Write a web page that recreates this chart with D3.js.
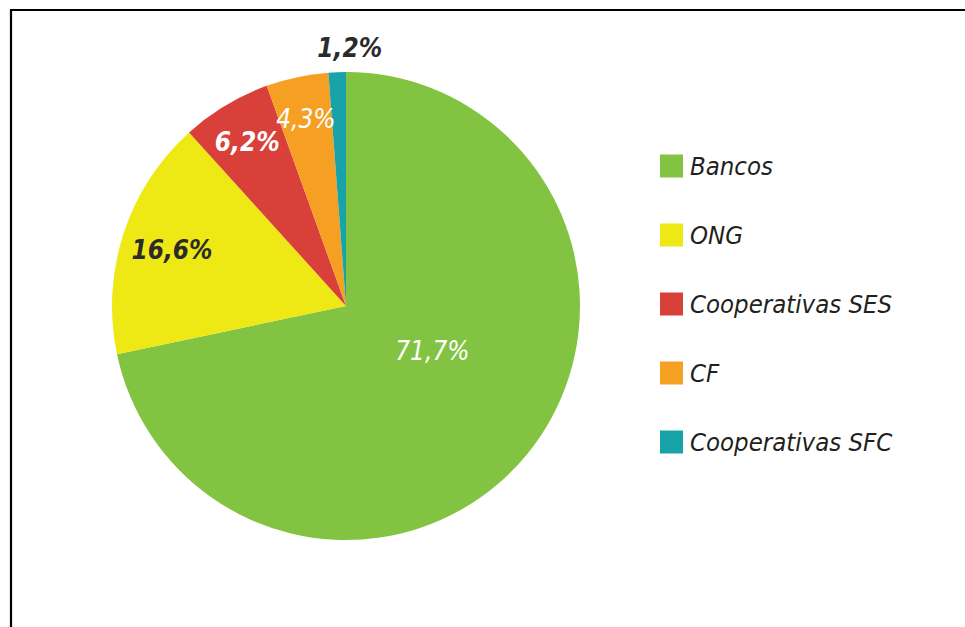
<!DOCTYPE html>
<html>
<head>
<meta charset="utf-8">
<script src="https://cdn.jsdelivr.net/npm/d3@7"></script>
<style>
  body { margin: 0; background: #fff; }
  svg text { font-family: "DejaVu Sans Condensed", "DejaVu Sans", sans-serif; font-stretch: condensed; font-style: italic; }
</style>
</head>
<body>
<div class="pie-viz"></div>
<script>
const categories = ["Bancos", "ONG", "Cooperativas SES", "CF", "Cooperativas SFC"];
const values = [71.7, 16.6, 6.2, 4.3, 1.2];
const labels = ["71,7%", "16,6%", "6,2%", "4,3%", "1,2%"];
const colors = ["#82c341", "#eee914", "#d9403a", "#f59f23", "#17a3a8"];

function drawPie() {
  const width = 965, height = 627;
  const cx = 346, cy = 306, radius = 234;

  const svg = d3.select(".pie-viz")
    .append("svg")
    .attr("width", width)
    .attr("height", height);

  // frame (only top and left edges visible)
  svg.append("path")
    .attr("d", `M11,${height + 5} V10 H${width + 5}`)
    .attr("fill", "none")
    .attr("stroke", "#000")
    .attr("stroke-width", 2.2);

  const data = categories.map((c, i) => ({ name: c, value: values[i], label: labels[i], color: colors[i] }));

  const pie = d3.pie().sort(null).value(d => d.value);
  const arcs = pie(data);
  const arc = d3.arc().innerRadius(0).outerRadius(radius);

  const g = svg.append("g").attr("transform", `translate(${cx}, ${cy})`);

  g.selectAll("path.slice")
    .data(arcs)
    .enter()
    .append("path")
    .attr("class", "slice")
    .attr("d", arc)
    .attr("fill", d => d.data.color);

  // label placement: radius and angle nudge per slice
  const labelR = [97, 183, 192, 192, 258];
  const labelNudge = [-12, 0, 0, 0, 3];
  const labelFill = ["#fff", "#2b2b2b", "#fff", "#fff", "#2b2b2b"];
  const labelWeight = ["normal", "bold", "bold", "normal", "bold"];

  g.selectAll("text.pct")
    .data(arcs)
    .enter()
    .append("text")
    .attr("class", "pct")
    .attr("transform", (d, i) => {
      const a = (d.startAngle + d.endAngle) / 2 + labelNudge[i] * Math.PI / 180;
      const r = labelR[i];
      return `translate(${r * Math.sin(a)}, ${-r * Math.cos(a)})`;
    })
    .attr("text-anchor", "middle")
    .attr("dy", "0.36em")
    .attr("font-size", "26px")
    .attr("font-weight", (d, i) => labelWeight[i])
    .attr("fill", (d, i) => labelFill[i])
    .text(d => d.data.label);

  // legend
  const legendY = d3.scalePoint()
    .domain(categories)
    .range([166, 442]);

  const legend = svg.append("g").attr("class", "legend");
  const items = legend.selectAll("g")
    .data(data)
    .enter()
    .append("g")
    .attr("transform", d => `translate(660, ${legendY(d.name)})`);

  items.append("rect")
    .attr("x", 0)
    .attr("y", -11.5)
    .attr("width", 23)
    .attr("height", 23)
    .attr("fill", d => d.color);

  items.append("text")
    .attr("x", 30)
    .attr("dy", "0.36em")
    .attr("font-size", "25.5px")
    .attr("fill", "#231f20")
    .text(d => d.name);
}

drawPie();
</script>
</body>
</html>
